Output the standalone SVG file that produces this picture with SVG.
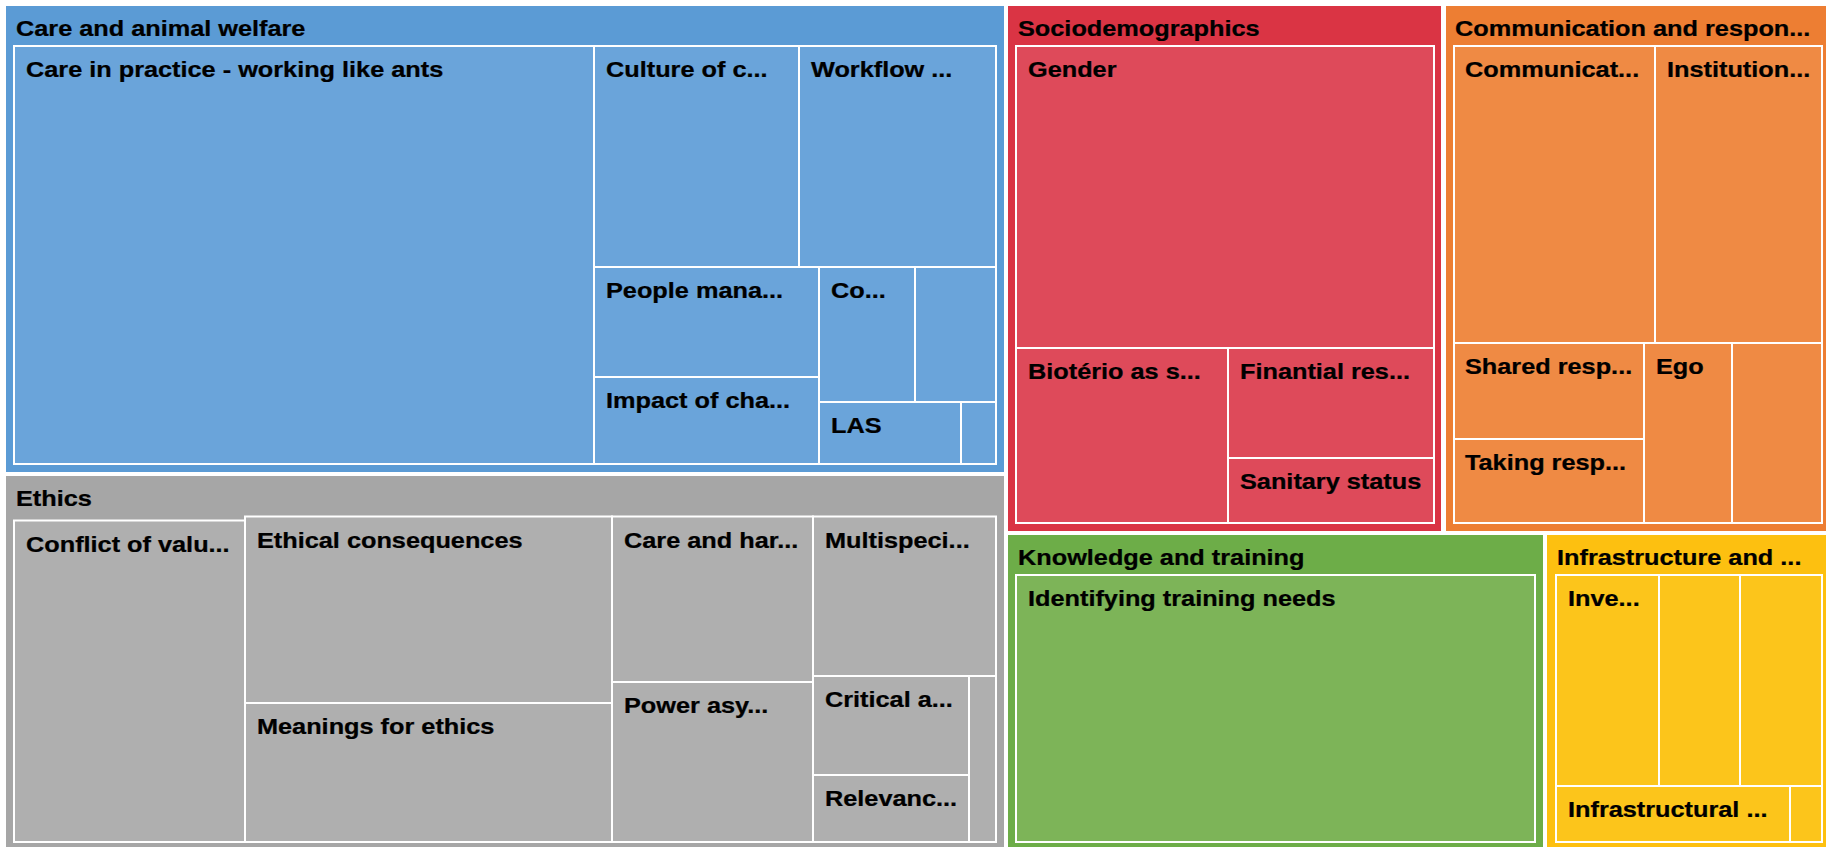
<svg xmlns="http://www.w3.org/2000/svg" width="1826" height="847" viewBox="0 0 1826 847">
<style>
text { font-family: "Liberation Sans", Arial, Helvetica, sans-serif; font-weight: bold; font-size: 22px; fill: #000; stroke: #000; stroke-width: 0.25; }
.leaf { stroke: #ffffff; stroke-width: 2; }
.blue-h { fill: #5b9bd5; } .blue { fill: #6aa4da; }
.gray-h { fill: #a6a6a6; } .gray { fill: #afafaf; }
.red-h { fill: #da3444; } .red { fill: #de4a5a; }
.orange-h { fill: #ed7e33; } .orange { fill: #ef8a44; }
.green-h { fill: #6dad48; } .green { fill: #7db458; }
.yellow-h { fill: #fdc010; } .yellow { fill: #fcc51b; }
</style>
<rect x="0" y="0" width="1826" height="847" fill="#ffffff"/>

<g id="care-and-animal-welfare">
  <rect class="blue-h" x="6" y="6" width="998" height="466"/>
  <text transform="translate(16,35.5) scale(1.15,1)">Care and animal welfare</text>
  <g id="care-in-practice"><rect class="leaf blue" x="14" y="46" width="580" height="418"/><text transform="translate(26,77) scale(1.15,1)">Care in practice - working like ants</text></g>
  <g id="culture-of-c"><rect class="leaf blue" x="594" y="46" width="205" height="221"/><text transform="translate(606,77) scale(1.15,1)">Culture of c...</text></g>
  <g id="workflow"><rect class="leaf blue" x="799" y="46" width="197" height="221"/><text transform="translate(811,77) scale(1.15,1)">Workflow ...</text></g>
  <g id="people-mana"><rect class="leaf blue" x="594" y="267" width="225" height="110"/><text transform="translate(606,298) scale(1.15,1)">People mana...</text></g>
  <g id="impact-of-cha"><rect class="leaf blue" x="594" y="377" width="225" height="87"/><text transform="translate(606,408) scale(1.15,1)">Impact of cha...</text></g>
  <g id="co"><rect class="leaf blue" x="819" y="267" width="96" height="135"/><text transform="translate(831,298) scale(1.15,1)">Co...</text></g>
  <g id="blue-blank-1"><rect class="leaf blue" x="915" y="267" width="81" height="135"/></g>
  <g id="las"><rect class="leaf blue" x="819" y="402" width="142" height="62"/><text transform="translate(831,433) scale(1.15,1)">LAS</text></g>
  <g id="blue-blank-2"><rect class="leaf blue" x="961" y="402" width="35" height="62"/></g>
</g>

<g id="ethics">
  <rect class="gray-h" x="6" y="476" width="998" height="371"/>
  <text transform="translate(16,505.5) scale(1.15,1)">Ethics</text>
  <g id="conflict-of-valu"><rect class="leaf gray" x="14" y="520.5" width="231" height="321.5"/><text transform="translate(26,552) scale(1.15,1)">Conflict of valu...</text></g>
  <g id="ethical-consequences"><rect class="leaf gray" x="245" y="516.5" width="367" height="186.5"/><text transform="translate(257,547.5) scale(1.15,1)">Ethical consequences</text></g>
  <g id="meanings-for-ethics"><rect class="leaf gray" x="245" y="703" width="367" height="139"/><text transform="translate(257,734) scale(1.15,1)">Meanings for ethics</text></g>
  <g id="care-and-har"><rect class="leaf gray" x="612" y="516.5" width="201" height="165.5"/><text transform="translate(624,547.5) scale(1.15,1)">Care and har...</text></g>
  <g id="power-asy"><rect class="leaf gray" x="612" y="682" width="201" height="160"/><text transform="translate(624,713) scale(1.15,1)">Power asy...</text></g>
  <g id="multispeci"><rect class="leaf gray" x="813" y="516.5" width="183" height="159.5"/><text transform="translate(825,547.5) scale(1.15,1)">Multispeci...</text></g>
  <g id="critical-a"><rect class="leaf gray" x="813" y="676" width="156" height="99"/><text transform="translate(825,707) scale(1.15,1)">Critical a...</text></g>
  <g id="relevanc"><rect class="leaf gray" x="813" y="775" width="156" height="67"/><text transform="translate(825,806) scale(1.15,1)">Relevanc...</text></g>
  <g id="gray-blank-1"><rect class="leaf gray" x="969" y="676" width="27" height="166"/></g>
</g>

<g id="sociodemographics">
  <rect class="red-h" x="1008" y="6" width="433" height="525"/>
  <text transform="translate(1018,35.5) scale(1.15,1)">Sociodemographics</text>
  <g id="gender"><rect class="leaf red" x="1016" y="46" width="418" height="302"/><text transform="translate(1028,77) scale(1.15,1)">Gender</text></g>
  <g id="bioterio-as-s"><rect class="leaf red" x="1016" y="348" width="212" height="175"/><text transform="translate(1028,379) scale(1.15,1)">Biotério as s...</text></g>
  <g id="finantial-res"><rect class="leaf red" x="1228" y="348" width="206" height="110"/><text transform="translate(1240,379) scale(1.15,1)">Finantial res...</text></g>
  <g id="sanitary-status"><rect class="leaf red" x="1228" y="458" width="206" height="65"/><text transform="translate(1240,489) scale(1.15,1)">Sanitary status</text></g>
</g>

<g id="communication-and-respon">
  <rect class="orange-h" x="1446" y="6" width="380" height="525"/>
  <text transform="translate(1455,35.5) scale(1.15,1)">Communication and respon...</text>
  <g id="communicat"><rect class="leaf orange" x="1454" y="46" width="201" height="297"/><text transform="translate(1465,77) scale(1.15,1)">Communicat...</text></g>
  <g id="institution"><rect class="leaf orange" x="1655" y="46" width="167" height="297"/><text transform="translate(1667,77) scale(1.15,1)">Institution...</text></g>
  <g id="shared-resp"><rect class="leaf orange" x="1454" y="343" width="190" height="96"/><text transform="translate(1465,374) scale(1.15,1)">Shared resp...</text></g>
  <g id="taking-resp"><rect class="leaf orange" x="1454" y="439" width="190" height="84"/><text transform="translate(1465,470) scale(1.15,1)">Taking resp...</text></g>
  <g id="ego"><rect class="leaf orange" x="1644" y="343" width="88" height="180"/><text transform="translate(1656,374) scale(1.15,1)">Ego</text></g>
  <g id="orange-blank-1"><rect class="leaf orange" x="1732" y="343" width="90" height="180"/></g>
</g>

<g id="knowledge-and-training">
  <rect class="green-h" x="1008" y="535" width="535" height="312"/>
  <text transform="translate(1018,564.5) scale(1.15,1)">Knowledge and training</text>
  <g id="identifying-training-needs"><rect class="leaf green" x="1016" y="575" width="519" height="267"/><text transform="translate(1028,606) scale(1.15,1)">Identifying training needs</text></g>
</g>

<g id="infrastructure-and">
  <rect class="yellow-h" x="1547" y="535" width="279" height="312"/>
  <text transform="translate(1557,564.5) scale(1.15,1)">Infrastructure and ...</text>
  <g id="inve"><rect class="leaf yellow" x="1556" y="575" width="103" height="211"/><text transform="translate(1568,606) scale(1.15,1)">Inve...</text></g>
  <g id="yellow-blank-1"><rect class="leaf yellow" x="1659" y="575" width="81" height="211"/></g>
  <g id="yellow-blank-2"><rect class="leaf yellow" x="1740" y="575" width="82" height="211"/></g>
  <g id="infrastructural"><rect class="leaf yellow" x="1556" y="786" width="234" height="56"/><text transform="translate(1568,817) scale(1.15,1)">Infrastructural ...</text></g>
  <g id="yellow-blank-3"><rect class="leaf yellow" x="1790" y="786" width="32" height="56"/></g>
</g>

<g id="connectors"></g>
</svg>
